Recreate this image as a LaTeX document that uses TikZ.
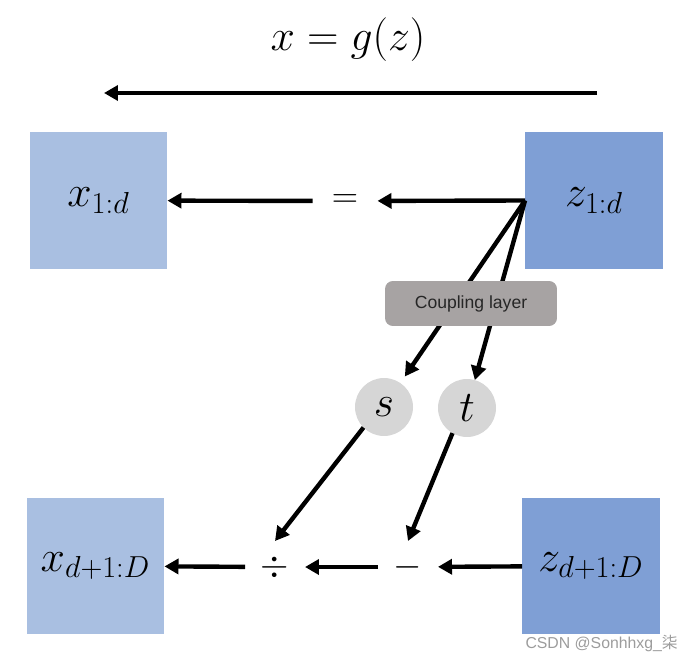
\documentclass[tikz,border=0pt]{standalone}
\usepackage{fontspec}
\usepackage{amsmath}
\usetikzlibrary{arrows.meta, positioning}
\newfontfamily\labelfont{Liberation Sans}
\newfontfamily\cjk{Noto Sans CJK SC}
\definecolor{xfill}{HTML}{A9BFE1}
\definecolor{zfill}{HTML}{7F9FD5}
\definecolor{layerbg}{HTML}{A7A3A3}
\definecolor{opbg}{HTML}{D6D6D6}
\definecolor{mark}{HTML}{9C9C9C}

\begin{document}
\begin{tikzpicture}[
    x=0.02cm, y=-0.02cm,
    font=\fontsize{26}{30}\selectfont,
    box/.style={minimum width=2.76cm, minimum height=2.74cm, inner sep=0pt, outer sep=0pt},
    xbox/.style={box, fill=xfill},
    zbox/.style={box, fill=zfill},
    op/.style={inner sep=0pt, outer sep=0pt, minimum width=1.2cm, minimum height=1.04cm,
               font=\fontsize{22}{26}\selectfont},
    fn/.style={circle, fill=opbg, minimum size=1.16cm, inner sep=0pt, outer sep=0pt},
    layer/.style={fill=layerbg, rounded corners=4.5pt, minimum width=3.44cm, minimum height=0.9cm,
                  font=\labelfont\fontsize{10}{12}\selectfont, text=black!85},
    ar/.style={-{Triangle[length=2.8mm, width=3mm]}, line width=2.5pt}
  ]
    \useasboundingbox (0,0) rectangle (692,662);
    \node (title) at (348,40) {$x = g(z)$};
    \coordinate (gs) at (597,93);
    \coordinate (ge) at (104,93);
    \draw[ar] (gs) -- (ge);
    % first half passes through unchanged
    \node[xbox] (xa) at (98.5,200.5) {$x_{1:d}$};
    \node[zbox] (za) at (594,200.5) {$z_{1:d}$};
    \node[op, minimum width=1.3cm] (eq) at (345,201) {$=$};
    \draw[ar] (za.west) -- (eq);  \draw[ar] (eq) -- (xa);
    % scale and shift from z_{1:d}
    \node[fn] (s) at (384,407) {$s$};
    \node[fn] (t) at (467,408) {$t$};
    \draw[ar, shorten >=4.5pt] (za.west) -- (s);
    \draw[ar] (za.west) -- (t);
    \node[layer] (cl) at (471,303.5) {Coupling layer};
    % second half
    \node[xbox] (xb) at (95.5,566) {$x_{d+1:D}$};
    \node[zbox] (zb) at (591,566) {$z_{d+1:D}$};
    \node[op] (div) at (275,567) {$\div$};
    \node[op] (sub) at (408,567) {$-$};
    \draw[ar] (zb) -- (sub);  \draw[ar] (sub) -- (div);  \draw[ar] (div) -- (xb);
    \draw[ar] (s.225) -- (div.north);
    \draw[ar] (t.240) -- (sub.north);
    \node[text=mark, font=\labelfont\fontsize{9}{11}\selectfont, anchor=east] (wm) at (684,643) {CSDN @Sonhhxg\_{\cjk 柒}};
\end{tikzpicture}
\end{document}
